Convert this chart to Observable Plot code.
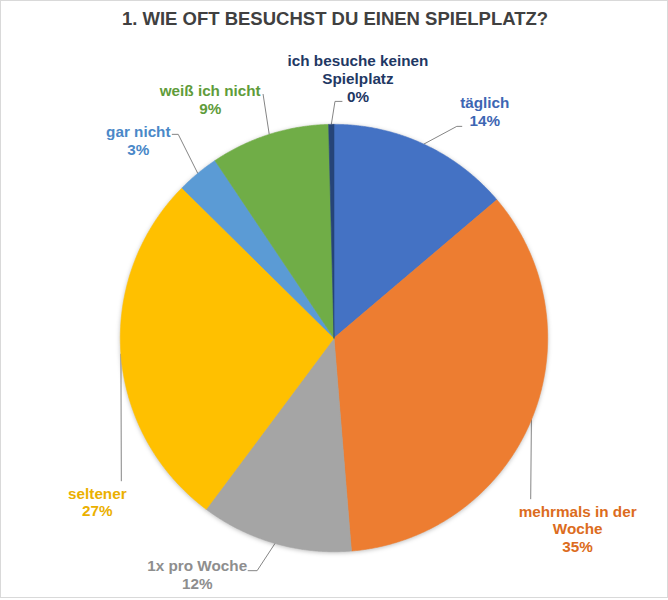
<!DOCTYPE html>
<html>
<head>
<meta charset="utf-8">
<script src="https://cdn.jsdelivr.net/npm/d3@7"></script>
<script src="https://cdn.jsdelivr.net/npm/@observablehq/plot@0.6"></script>
<style>
  html, body { margin: 0; padding: 0; background: #fff; }
  #frame { position: relative; width: 668px; height: 598px; box-sizing: border-box; border: 1px solid #d9d9d9; background: #fff; overflow: hidden; }
  #title { position: absolute; left: 0; top: 0; width: 668px; height: 36px; line-height: 36px; text-align: center;
           font-family: "Liberation Sans", Arial, sans-serif; font-weight: bold; font-size: 18.5px; color: #404040; }
  #chart { position: absolute; left: -1px; top: 35px; }
  #chart g[aria-label="line"].slices { }
</style>
</head>
<body>
<div id="frame">
  <div id="title">1. WIE OFT BESUCHST DU EINEN SPIELPLATZ?</div>
  <div id="chart"></div>
</div>
<script>
// ---- data ----
const categories = ["täglich", "mehrmals in der Woche", "1x pro Woche", "seltener", "gar nicht", "weiß ich nicht", "ich besuche keinen Spielplatz"];
const values = [13.8, 34.9, 11.5, 27.2, 3.2, 9.0, 0.4];
const labelLines = [["täglich"], ["mehrmals in der", "Woche"], ["1x pro Woche"], ["seltener"], ["gar nicht"], ["weiß ich nicht"], ["ich besuche keinen", "Spielplatz"]];

// ---- styles ----
const sliceColors = ["#4472C4", "#ED7D31", "#A5A5A5", "#FFC000", "#5B9BD5", "#70AD47", "#264478"];
const textColors = ["#3d66b3", "#dc6c20", "#8e8e8e", "#ebb000", "#4a88c8", "#5f9c3a", "#1f3864"];

// ---- layout (pixel offsets from pie centre, y down) ----
const R = 214;
const labelOffsets = [[151, -227], [244, 191], [-137, 236.5], [-237, 164], [-196, -198], [-124, -239.5], [24, -260]];
const leaderBends = [
  [[123, -212], [128, -212]],
  [[197, 161]],
  [[-77, 233], [-86, 233]],
  [[-213, 143]],
  [[-156, -204], [-162, -204]],
  [[-71, -244]],
  [[1, -237], [8, -237]]
];

const W = 668, H = 564, CX = 334, CY = 302;
const toU = ([px, py]) => [px / R, -py / R];

// slices from pie angles
const pie = d3.pie().sort(null).value(d => d)(values);
const slicePts = [];
pie.forEach((p, i) => {
  const name = categories[i];
  slicePts.push({name, x: 0, y: 0});
  const steps = Math.max(2, Math.ceil((p.endAngle - p.startAngle) / 0.005));
  for (let k = 0; k <= steps; k++) {
    const a = p.startAngle + (p.endAngle - p.startAngle) * k / steps;
    slicePts.push({name, x: Math.sin(a), y: Math.cos(a)});
  }
  slicePts.push({name, x: 0, y: 0});
});

// leader lines
const leaderPts = [];
pie.forEach((p, i) => {
  const mid = (p.startAngle + p.endAngle) / 2;
  leaderPts.push({name: categories[i], x: Math.sin(mid), y: Math.cos(mid)});
  leaderBends[i].forEach(b => { const [x, y] = toU(b); leaderPts.push({name: categories[i], x, y}); });
});

// labels
const labels = categories.map((c, i) => {
  const [x, y] = toU(labelOffsets[i]);
  return {name: c, x, y, text: [...labelLines[i], Math.round(values[i]) + "%"].join("\n"), color: textColors[i]};
});

const chart = Plot.plot({
  width: W,
  height: H,
  marginLeft: CX - R,
  marginRight: W - (CX + R),
  marginTop: CY - R,
  marginBottom: H - (CY + R),
  x: {domain: [-1, 1], axis: null},
  y: {domain: [-1, 1], axis: null},
  color: {type: "ordinal", domain: categories, range: sliceColors},
  style: {fontFamily: "'Liberation Sans', Arial, sans-serif", background: "transparent"},
  marks: [
    Plot.line(leaderPts, {x: "x", y: "y", z: "name", stroke: "#858585", strokeWidth: 1}),
    Plot.line(slicePts, {x: "x", y: "y", z: "name", fill: "name", stroke: "name", strokeWidth: 0.6, curve: "linear"}),
    ...labels.map(l => Plot.text([l], {
      x: "x", y: "y", text: "text", fill: l.color,
      fontSize: 15.3, fontWeight: "bold", lineHeight: 1.17,
      textAnchor: "middle", lineAnchor: "middle"
    }))
  ]
});
document.getElementById("chart").appendChild(chart);
// soft shadow on pie, like the spreadsheet default
const gs = chart.querySelectorAll('g[aria-label="line"]');
if (gs.length > 1) gs[1].style.filter = "drop-shadow(0px 1px 2px rgba(0,0,0,0.25))";
</script>
</body>
</html>
